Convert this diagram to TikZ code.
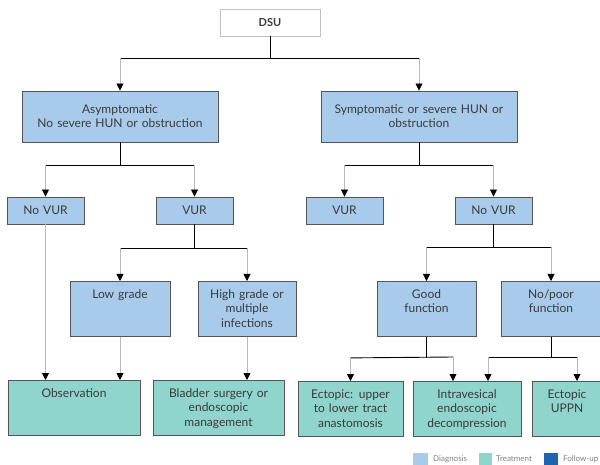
\documentclass[tikz,border=0pt]{standalone}
\usepackage{fontspec}
\setmainfont{Lato}
\usepackage{xcolor}
\usetikzlibrary{arrows.meta}
\definecolor{diagnosis area}{HTML}{A8CBEB}
\definecolor{treatment area}{HTML}{90D4CE}
\definecolor{followup area}{HTML}{1E64AF}
\definecolor{box edge}{HTML}{555555}
\definecolor{box text}{HTML}{3A3A3A}
\tikzset{box/.style={draw=box edge, line width=0.9pt, text=box text, align=center,
        inner sep=0pt, font=\fontsize{12}{14.3}\selectfont},
    diagnosis/.style={box, fill=diagnosis area},
    treatment/.style={box, fill=treatment area},
    wide/.style={minimum width=#1, text width=#1},
    flat/.style={minimum height=27pt},
    tall/.style={anchor=north, text height=17pt, text depth=38pt},
    stem/.style={draw=black, line width=0.9pt},
    drop/.style={draw=gray!55, line width=0.8pt, -{Triangle[width=7pt,length=7pt,color=black]}},
    legend/.style={anchor=west, inner sep=0pt, text=gray, font=\fontsize{8}{9}\selectfont}}

\begin{document}
\begin{tikzpicture}[x=1pt, y=-1pt]
    \useasboundingbox (0,0) rectangle (600,465);
    \clip (0,0) rectangle (600,465);
    % boxes
    \node[box, flat, draw=gray!50, wide=100pt, font=\fontsize{11}{14}\bfseries] (dsu) at (270,22.5) {DSU};
    \node[diagnosis, wide=196pt, minimum height=51pt] (asym) at (120,116.5) {Asymptomatic\\No severe HUN or obstruction};
    \node[diagnosis, wide=196pt, minimum height=51pt] (sym) at (419,116.5) {Symptomatic or severe HUN or\\obstruction};
    \node[diagnosis, flat, wide=77pt] (novur left) at (45.5,210.5) {No VUR};
    \node[diagnosis, flat, wide=77pt] (vur left) at (194.5,210.5) {VUR};
    \node[diagnosis, flat, wide=77pt] (vur right) at (344.5,210.5) {VUR};
    \node[diagnosis, flat, wide=77pt] (novur right) at (493.5,210.5) {No VUR};
    \node[diagnosis, tall, wide=100pt] (low) at (120,281) {Low grade};
    \node[diagnosis, tall, wide=98pt] (high) at (247,281) {High grade or\\multiple\\infections};
    \node[diagnosis, tall, wide=99pt] (good) at (426.5,281) {Good\\function};
    \node[diagnosis, tall, wide=100pt] (nopoor) at (551,281) {No/poor\\function};
    \node[treatment, tall, wide=132pt] (obs) at (74,380) {Observation};
    \node[treatment, tall, wide=131pt] (bladder) at (218.5,380) {Bladder surgery or\\endoscopic\\management};
    \node[treatment, tall, wide=105pt] (ectup) at (350.5,381) {Ectopic: upper\\to lower tract\\anastomosis};
    \node[treatment, tall, wide=108pt] (intra) at (467,381) {Intravesical\\endoscopic\\decompression};
    \node[treatment, tall, wide=70pt] (uppn) at (567,381) {Ectopic\\UPPN};
    % connectors
    \draw[stem] (dsu.south) -- ++(0,22) coordinate (dsu split);
    \draw[stem] (asym.north |- dsu split) -- (sym.north |- dsu split);
    \foreach \child in {asym, sym}
        \draw[drop] (\child.north |- dsu split) -- (\child.north);
    \draw[stem] (asym.south) -- ++(0,23) coordinate (asym split);
    \draw[stem] (novur left.north |- asym split) -- (vur left.north |- asym split);
    \foreach \child in {novur left, vur left}
        \draw[drop] (\child.north |- asym split) -- (\child.north);
    \draw[stem] (sym.south) -- ++(0,23) coordinate (sym split);
    \draw[stem] (vur right.north |- sym split) -- (novur right.north |- sym split);
    \foreach \child in {vur right, novur right}
        \draw[drop] (\child.north |- sym split) -- (\child.north);
    \draw[stem] (vur left.south) -- ++(0,24) coordinate (vur split);
    \draw[stem] (low.north |- vur split) -- (high.north |- vur split);
    \foreach \child in {low, high}
        \draw[drop] (\child.north |- vur split) -- (\child.north);
    \draw[stem] (novur right.south) -- ++(0,23) coordinate (novur split);
    \draw[stem] (good.north |- novur split) -- (nopoor.north |- novur split);
    \foreach \child in {good, nopoor}
        \draw[drop] (\child.north |- novur split) -- (\child.north);
    \draw[drop] (novur left.south) -- (obs.north -| novur left.south);
    \draw[drop] (low.south) -- (obs.north -| low.south);
    \draw[drop] (high.south) -- (bladder.north -| high.south);
    \draw[stem] (good.south) -- ++(0,21) coordinate (good split);
    \coordinate (intra a) at (453,357);
    \draw[stem] (ectup.north |- good split) -- (intra a);
    \draw[drop] (ectup.north |- good split) -- (ectup.north);
    \draw[drop] (intra a) -- (intra.north -| intra a);
    \draw[stem] (nopoor.south) -- ++(0,21) coordinate (nopoor split);
    \coordinate (intra b) at (488,357);
    \coordinate (uppn a) at (577,357);
    \draw[stem] (intra b) -- (uppn a);
    \draw[drop] (intra b) -- (intra.north -| intra b);
    \draw[drop] (uppn a) -- (uppn.north -| uppn a);
    % legend
    \fill[diagnosis area] (413,453) rectangle (428,465);
    \node[legend] (diagnosis key) at (433,459) {Diagnosis};
    \fill[treatment area] (479,453) rectangle (492,465);
    \node[legend] (treatment key) at (496,459) {Treatment};
    \fill[followup area] (544,453) rectangle (558,465);
    \node[legend] (followup key) at (563,459) {Follow-up};
\end{tikzpicture}
\end{document}
